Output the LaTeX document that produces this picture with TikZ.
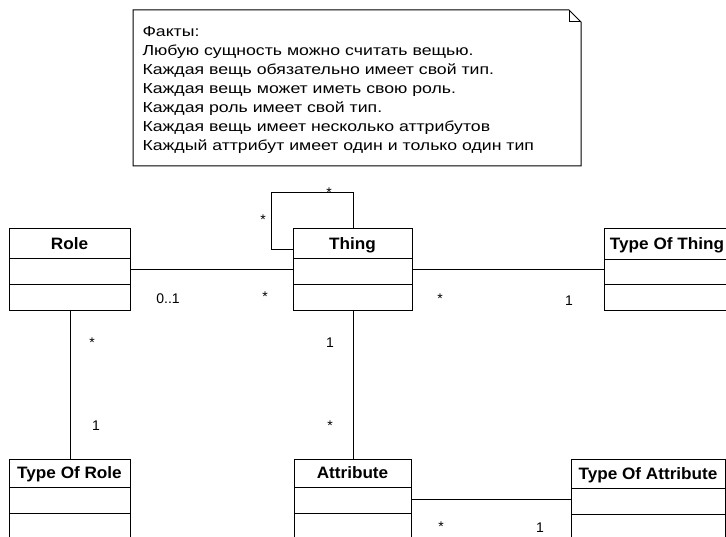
\documentclass[tikz,border=0pt]{standalone}
\usepackage{fontspec}
\setmainfont{Liberation Sans}
\newfontfamily\notefont[FakeStretch=1.22]{Liberation Sans}
\newfontfamily\clsfont[FakeStretch=1.04]{Liberation Sans}
\newcommand\umlclass[8]{%
  \node[classbox, minimum width={#4-#2}, minimum height={#7-#3}] (#1) at (#2,#3) {};
  \draw (#2,#5) -- (#4,#5);
  \draw (#2,#6) -- (#4,#6);
  \node[clsname] (#1-t) at ({(#2+#4)/2},{(#3+#5)/2+5.9}) {#8};
}
\begin{document}
\begin{tikzpicture}[x=1pt,y=-1pt, line width=1pt,
  classbox/.style={draw, line width=1pt, inner sep=0, anchor=north west},
  clsname/.style={font=\clsfont\bfseries\fontsize{16.5}{18}\selectfont, anchor=base, inner sep=0},
  mult/.style={font=\fontsize{14}{16}\selectfont, anchor=base, inner sep=0},
  noteline/.style={font=\notefont\fontsize{14.5}{17}\selectfont, anchor=base west, inner sep=0},
  assoc/.style={draw, line width=1pt}]
\useasboundingbox (0,0) rectangle (726,537);
\fill[white] (0,0) rectangle (726,537);

% note
\coordinate (nTL) at (133,10);
\coordinate (nFa) at (569,10);
\coordinate (nFb) at (581,22);
\coordinate (nBR) at (581,166);
\coordinate (nBL) at (133,166);
\draw (nTL) -- (nFa) -- (nFb) -- (nBR) -- (nBL) -- cycle;
\draw (nFa) -- (nFa |- nFb) -- (nFb);
\node[noteline] (n1) at (142,36.5) {Факты:};
\node[noteline] (n2) at (142,55.6) {Любую сущность можно считать вещью.};
\node[noteline] (n3) at (142,74.7) {Каждая вещь обязательно имеет свой тип.};
\node[noteline] (n4) at (142,93.8) {Каждая вещь может иметь свою роль.};
\node[noteline] (n5) at (142,112.9) {Каждая роль имеет свой тип.};
\node[noteline] (n6) at (142,132) {Каждая вещь имеет несколько аттрибутов};
\node[noteline] (n7) at (142,151) {Каждый аттрибут имеет один и только один тип};

% classes
\umlclass{role}{9}{228.5}{130}{259}{284.5}{310}{Role}
\umlclass{thing}{293}{228.5}{412}{258.5}{284.5}{310}{Thing}
\umlclass{tot}{604}{228.5}{730}{259.5}{285}{310}{Type Of Thing}
\umlclass{tor}{9}{458.5}{130}{487.5}{513.5}{540}{Type Of Role}
\umlclass{attr}{294}{458.5}{411}{487.5}{513.5}{540}{Attribute}
\umlclass{toa}{571}{458.5}{725}{488}{514}{540}{Type Of Attribute}

% associations
\draw[assoc] (role.east) -- (thing.west);
\draw[assoc] (thing.east) -- (tot.west);
\draw[assoc] (role.south) -- (tor.north);
\draw[assoc] (thing.south) -- (attr.north);
\draw[assoc] (attr.east) -- (toa.west);
\coordinate (loopc) at (271,193);
\draw[assoc] ([yshift=20pt]thing.west) -| (loopc) -| (thing.north);

% multiplicities
\node[mult] (m1) at (263,224.5) {*};
\node[mult] (m2) at (329,198) {*};
\node[mult] (m3) at (168,304) {0..1};
\node[mult] (m4) at (265,301.5) {*};
\node[mult] (m5) at (440,304) {*};
\node[mult] (m6) at (569,306) {1};
\node[mult] (m7) at (92,348) {*};
\node[mult] (m8) at (96,430) {1};
\node[mult] (m9) at (330,348) {1};
\node[mult] (m10) at (330,430) {*};
\node[mult] (m11) at (441,531) {*};
\node[mult] (m12) at (540,532) {1};
\end{tikzpicture}
\end{document}
